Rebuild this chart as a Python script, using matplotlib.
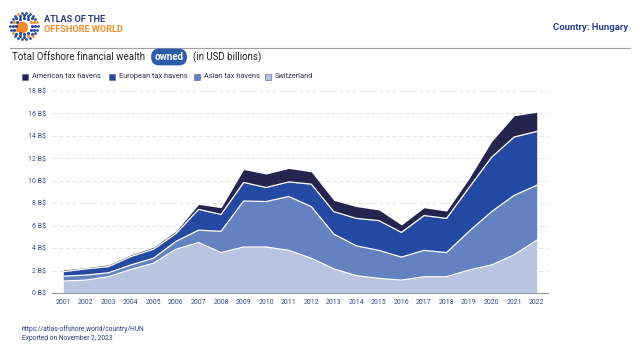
import numpy as np
import matplotlib
matplotlib.use("Agg")
from matplotlib import pyplot as plt

plt.rcParams['font.family'] = ['Roboto', 'DejaVu Sans']

years = list(range(2001, 2023))
switzerland = [1.07, 1.15, 1.45, 2.1, 2.65, 3.9, 4.5, 3.6, 4.1, 4.1, 3.8, 3.1, 2.15, 1.55, 1.3, 1.15, 1.45, 1.45, 2.05, 2.5, 3.4, 4.7]
asian = [0.43, 0.45, 0.35, 0.4, 0.45, 0.7, 1.1, 1.9, 4.1, 4.05, 4.8, 4.6, 3.1, 2.65, 2.5, 2.05, 2.35, 2.15, 3.45, 4.75, 5.3, 4.9]
european = [0.4, 0.55, 0.55, 0.75, 0.8, 0.7, 1.85, 1.5, 1.65, 1.25, 1.3, 2.0, 2.0, 2.45, 2.65, 2.2, 3.1, 3.05, 3.9, 4.85, 5.2, 4.8]
american = [0.15, 0.1, 0.15, 0.15, 0.17, 0.2, 0.45, 0.6, 1.15, 1.2, 1.2, 1.1, 1.0, 1.05, 0.95, 0.66, 0.7, 0.65, 0.8, 1.4, 1.9, 1.7]
series_names = ["American tax havens", "European tax havens", "Asian tax havens", "Switzerland"]
yticks = [0, 2, 4, 6, 8, 10, 12, 14, 16, 18]

col_am = "#24244f"
col_eu = "#2449a3"
col_as = "#6482c0"
col_sw = "#b9c4e0"
txt_col = "#3b4a86"

W, H = 640, 350
fig = plt.figure(figsize=(6.4, 3.5), dpi=100)

def fx(x):
    return x / W

def fy(y):
    return 1 - y / H

# main chart
ax = fig.add_axes([fx(52), fy(293), fx(548) - fx(52), fy(91) - fy(293)])
layers = [switzerland, asian, european, american]
colors = [col_sw, col_as, col_eu, col_am]
base = np.zeros(len(years))
tops = []
for vals, c in zip(layers, colors):
    top = base + np.array(vals)
    ax.fill_between(years, base, top, color=c, linewidth=0)
    tops.append(top)
    base = top
for top in tops[:-1]:
    ax.plot(years, top, color="white", lw=0.9)

ax.set_xlim(2000.5, 2022.5)
ax.set_ylim(0, 18)
ax.set_yticks(yticks)
ax.set_yticklabels([f"{v} B$" for v in yticks])
ax.set_xticks(years)
ax.set_xticklabels([str(y) for y in years])
ax.tick_params(length=0, labelsize=5, colors=txt_col, pad=4)
for s in ["top", "right", "left"]:
    ax.spines[s].set_visible(False)
ax.spines["bottom"].set_color("#9a9a9a")
ax.spines["bottom"].set_linewidth(0.8)
ax.grid(axis="y", linestyle=(0, (5, 3)), color="#dedede", lw=0.6)
ax.set_axisbelow(True)
ax.patch.set_alpha(0)

# logo
lax = fig.add_axes([fx(9), fy(41), 30 / W, 30 / H])
lax.set_xlim(-1.05, 1.05)
lax.set_ylim(-1.05, 1.05)
lax.set_aspect("equal")
lax.axis("off")
lax.add_patch(plt.Circle((-0.12, -0.1), 0.36, color="#f28c28"))
for r, n, sz in [(0.55, 12, 5), (0.75, 16, 5), (0.95, 22, 4)]:
    for k in range(n):
        a = 2 * np.pi * (k + 0.5 * (n % 2)) / n
        c = "#f28c28" if (k % 6 == 1) else "#2d4a9a"
        lax.scatter(r * np.cos(a), r * np.sin(a), s=sz, color=c, lw=0)

fig.text(fx(44), fy(20), "ATLAS OF THE", fontsize=6.6, fontweight="bold", color="#2d3a7c", va="center")
fig.text(fx(44), fy(30), "OFFSHORE WORLD", fontsize=6.6, fontweight="bold", color="#f28c28", va="center")
fig.text(fx(628), fy(27), "Country: Hungary", fontsize=6.8, fontweight="bold", color="#2d3f8f", ha="right", va="center")
fig.add_artist(plt.Line2D([fx(10), fx(630)], [fy(48), fy(48)], color="#a0a0a0", lw=0.8))

# title row
fig.text(fx(12), fy(57), "Total Offshore financial wealth", fontsize=7, color="#222222", va="center")
fig.text(fx(169), fy(57), "owned", fontsize=7, color="white", fontweight="bold", va="center", ha="center",
         bbox=dict(boxstyle="round,pad=0.35,rounding_size=0.85", fc="#2a5aa8", ec="none"))
fig.text(fx(193), fy(57), "(in USD billions)", fontsize=7, color="#222222", va="center")

# legend
leg_items = [(series_names[0], col_am), (series_names[1], col_eu), (series_names[2], col_as), (series_names[3], col_sw)]
legend_x = [22, 109, 194, 265]
for (name, c), x in zip(leg_items, legend_x):
    fig.add_artist(plt.Rectangle((fx(x), fy(80)), 6 / W, 6 / H, fc=c, ec="#5a5a8a", lw=0.4))
    fig.text(fx(x + 10), fy(77), name, fontsize=5.3, color="#333344", va="center")

# footer
fig.text(fx(22), fy(329), "https://atlas-offshore.world/country/HUN", fontsize=4.8, color="#2d3a7c", va="center")
fig.text(fx(22), fy(339), "Exported on November 2, 2023", fontsize=4.8, color="#2d3a7c", va="center")

fig.savefig("out.png", dpi=100)
